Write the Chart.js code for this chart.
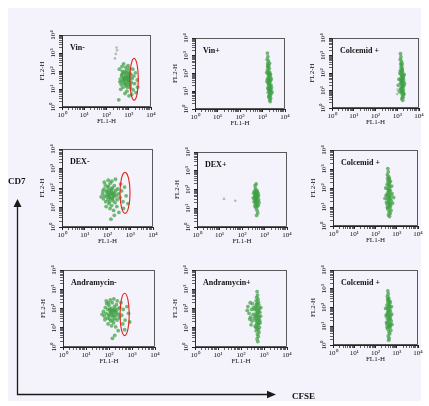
<!DOCTYPE html>
<html><head><meta charset="utf-8">
<script src="https://cdn.jsdelivr.net/npm/chart.js@4/dist/chart.umd.min.js"></script>
<style>
html,body{margin:0;padding:0;background:#fff;width:429px;height:406px;overflow:hidden;position:relative}
canvas{position:absolute}
.lbl{position:absolute;font:bold 9px "Liberation Serif",serif;color:#111;white-space:nowrap;line-height:10px}
</style></head><body>
<canvas id="ann" width="429" height="406" style="left:0;top:0"></canvas>
<span class="lbl" style="left:8px;top:176px">CD7</span>
<span class="lbl" style="left:292px;top:391px">CFSE</span>
<script>
// ---- data (values in decades: 10^value) ----
const tickLabels = ['10\u2070','10\u00b9','10\u00b2','10\u00b3','10\u2074'];
const panelNames = ['Vin-','Vin+','Colcemid +','DEX-','DEX+','Colcemid +','Andramycin-','Andramycin+','Colcemid +'];
const xAxisTitle = 'FL1-H';
const yAxisTitle = 'FL2-H';

const vinMinus = [[2.62,1.55],[2.68,1.72],[2.71,1.41],[2.75,1.88],[2.78,1.62],[2.80,1.30],[2.82,1.95],[2.84,1.50],[2.86,1.74],[2.88,1.18],[2.90,1.60],[2.91,2.05],[2.93,1.38],[2.95,1.83],[2.96,1.52],[2.98,1.70],[3.00,1.25],[3.02,1.95],[3.04,1.45],[3.06,1.65],[3.08,1.05],[3.10,1.80],[3.12,1.35],[3.15,1.58],[3.18,2.10],[3.20,0.95],[3.23,1.72],[3.26,1.30],[3.30,1.90],[3.33,0.80],[2.58,2.10],[2.64,0.98],[2.70,2.25],[2.74,1.10],[2.77,2.40],[2.83,0.75],[2.87,2.20],[2.92,0.88],[2.97,2.30],[3.01,0.62],[2.66,1.25],[2.72,1.98],[2.79,1.48],[2.85,1.28],[2.89,1.90],[2.94,1.10],[2.99,1.45],[3.03,2.15],[3.07,1.22],[3.13,0.70],[2.81,1.65],[2.76,1.55],[2.69,1.80],[2.95,1.65],[3.05,1.85],[2.60,1.40],[3.38,1.50],[3.40,1.10],[2.55,0.40]];
const vinPlus = [[3.22,3.15],[3.24,2.95],[3.21,2.80],[3.26,2.70],[3.23,2.55],[3.28,2.45],[3.25,2.35],[3.30,2.28],[3.22,2.20],[3.27,2.12],[3.32,2.05],[3.24,1.98],[3.29,1.92],[3.34,1.85],[3.26,1.80],[3.31,1.74],[3.22,1.68],[3.36,1.62],[3.28,1.58],[3.33,1.52],[3.25,1.46],[3.30,1.40],[3.38,1.35],[3.27,1.30],[3.32,1.24],[3.24,1.18],[3.35,1.12],[3.29,1.06],[3.33,1.00],[3.26,0.94],[3.38,0.88],[3.31,0.82],[3.35,0.75],[3.28,0.68],[3.36,0.60],[3.32,0.52],[3.34,0.42],[3.20,1.55],[3.19,2.05],[3.40,1.20],[3.39,1.70],[3.27,1.65],[3.30,1.95],[3.33,1.30],[3.29,1.45],[3.35,1.95],[3.23,2.42],[3.31,2.58],[3.37,1.05],[3.26,1.12],[3.42,0.95],[3.30,0.72]];
const colcemidA = [[3.15,3.10],[3.17,2.92],[3.14,2.78],[3.19,2.66],[3.16,2.52],[3.21,2.44],[3.18,2.33],[3.23,2.25],[3.15,2.16],[3.20,2.08],[3.25,2.00],[3.17,1.93],[3.22,1.86],[3.27,1.80],[3.19,1.74],[3.24,1.68],[3.14,1.62],[3.29,1.57],[3.21,1.51],[3.26,1.46],[3.18,1.40],[3.23,1.34],[3.30,1.28],[3.20,1.22],[3.25,1.16],[3.16,1.10],[3.28,1.04],[3.22,0.98],[3.26,0.92],[3.19,0.86],[3.30,0.78],[3.24,0.70],[3.27,0.62],[3.21,0.54],[3.25,0.44],[3.05,1.30],[3.08,1.65],[3.10,0.95],[3.33,1.40],[3.32,1.90],[3.20,1.60],[3.23,2.15],[3.26,1.25],[3.18,1.05],[3.28,1.70],[3.12,2.00],[3.22,2.55],[3.29,0.85],[3.17,1.45],[3.24,1.85]];
const dexMinus = [[1.78,1.70],[1.82,1.45],[1.85,1.95],[1.88,1.60],[1.90,2.15],[1.92,1.30],[1.95,1.80],[1.97,1.55],[2.00,2.05],[2.02,1.40],[2.04,1.72],[2.06,1.20],[2.08,1.90],[2.10,1.62],[2.12,2.25],[2.14,1.48],[2.16,1.82],[2.18,1.10],[2.20,1.68],[2.22,2.00],[2.24,1.35],[2.26,1.78],[2.28,1.55],[2.30,2.12],[2.33,1.25],[2.36,1.88],[2.39,1.60],[2.42,1.40],[2.45,1.95],[2.48,1.70],[1.86,2.30],[1.94,1.05],[2.03,2.40],[2.11,0.95],[2.19,2.35],[2.27,0.85],[2.35,2.45],[2.41,1.05],[2.07,1.52],[1.99,1.85],[2.13,1.75],[2.21,1.45],[2.17,1.95],[2.09,1.30],[2.25,1.62],[1.80,1.85],[2.01,1.65],[2.05,2.10],[2.32,1.72],[2.55,1.50],[2.62,1.85],[2.68,1.30],[2.75,2.05],[2.82,1.60],[2.90,1.20],[2.58,2.20],[2.70,0.95],[2.30,0.60],[2.15,0.40],[2.50,0.75],[1.72,1.55]];
const dexPlus = [[2.55,1.90],[2.58,1.75],[2.60,2.05],[2.62,1.60],[2.64,1.85],[2.66,1.45],[2.68,1.70],[2.56,1.50],[2.59,1.30],[2.61,1.95],[2.63,1.20],[2.65,1.55],[2.67,1.10],[2.69,1.38],[2.71,1.80],[2.57,1.65],[2.60,1.40],[2.62,1.02],[2.64,1.72],[2.66,1.25],[2.70,1.58],[2.72,1.15],[2.52,1.80],[2.54,1.35],[2.74,1.45],[2.58,2.20],[2.63,2.30],[2.67,0.90],[2.70,0.75],[2.65,0.62],[2.61,1.48],[2.68,1.92],[2.59,1.58],[2.73,1.68],[2.50,1.55],[2.76,1.30],[2.63,1.82],[2.57,1.12]];
const colcemidB = [[2.58,3.02],[2.60,2.85],[2.56,2.70],[2.62,2.60],[2.57,2.50],[2.64,2.42],[2.59,2.35],[2.66,2.28],[2.55,2.20],[2.61,2.12],[2.68,2.05],[2.58,1.98],[2.63,1.92],[2.70,1.86],[2.60,1.80],[2.65,1.74],[2.54,1.68],[2.72,1.62],[2.62,1.56],[2.67,1.50],[2.57,1.44],[2.63,1.38],[2.74,1.32],[2.60,1.26],[2.66,1.20],[2.55,1.14],[2.71,1.08],[2.62,1.02],[2.68,0.96],[2.58,0.90],[2.73,0.82],[2.64,0.75],[2.69,0.66],[2.61,0.58],[2.66,0.50],[2.50,1.60],[2.48,2.00],[2.52,1.25],[2.78,1.70],[2.80,1.20],[2.76,2.10],[2.65,2.50],[2.59,1.62],[2.69,1.42],[2.64,2.20],[2.56,0.98],[2.70,2.35],[2.62,1.85],[2.67,1.15],[2.45,1.45],[2.85,1.50]];
const andraMinus = [[1.76,1.85],[1.80,1.60],[1.84,2.05],[1.87,1.75],[1.90,2.25],[1.93,1.50],[1.95,1.95],[1.98,1.68],[2.00,2.15],[2.03,1.45],[2.05,1.85],[2.08,1.35],[2.10,2.00],[2.12,1.72],[2.14,2.30],[2.16,1.58],[2.18,1.92],[2.20,1.25],[2.22,1.80],[2.24,2.10],[2.26,1.48],[2.28,1.88],[2.30,1.65],[2.32,2.20],[2.35,1.40],[2.38,1.98],[2.41,1.70],[2.44,1.52],[2.47,2.05],[1.88,2.40],[1.96,1.20],[2.06,2.45],[2.11,1.10],[2.21,2.50],[2.29,1.05],[2.36,2.40],[2.02,1.62],[2.09,1.78],[2.17,1.40],[2.25,1.95],[2.13,1.88],[1.82,1.42],[1.99,2.30],[2.19,1.65],[2.04,1.95],[2.33,1.80],[2.55,1.65],[2.62,1.95],[2.70,1.40],[2.78,2.10],[2.85,1.75],[2.60,1.20],[2.52,2.30],[2.40,0.85],[2.25,0.60],[2.15,0.45],[2.68,0.90],[1.70,1.70],[2.90,1.30]];
const andraPlus = [[2.70,2.88],[2.72,2.70],[2.68,2.58],[2.74,2.48],[2.66,2.40],[2.76,2.32],[2.70,2.25],[2.78,2.18],[2.64,2.10],[2.72,2.04],[2.80,1.98],[2.68,1.92],[2.75,1.86],[2.82,1.80],[2.66,1.74],[2.73,1.68],[2.62,1.62],[2.79,1.56],[2.70,1.50],[2.76,1.44],[2.64,1.38],[2.71,1.32],[2.83,1.26],[2.68,1.20],[2.74,1.14],[2.62,1.08],[2.80,1.02],[2.70,0.96],[2.76,0.90],[2.66,0.84],[2.78,0.76],[2.72,0.66],[2.75,0.55],[2.70,0.42],[2.73,0.28],[2.85,1.60],[2.86,2.05],[2.60,1.95],[2.58,1.50],[2.67,2.20],[2.74,1.78],[2.69,1.60],[2.77,1.22],[2.65,1.02],[2.81,1.38],[2.30,2.10],[2.35,1.75],[2.40,2.30],[2.42,1.55],[2.46,1.95],[2.50,2.25],[2.48,1.35],[2.53,1.70],[2.38,1.45],[2.27,1.90],[2.55,2.05],[2.44,1.15]];
const colcemidC = [[2.58,2.88],[2.60,2.72],[2.56,2.60],[2.62,2.50],[2.57,2.42],[2.64,2.35],[2.59,2.28],[2.66,2.20],[2.54,2.13],[2.61,2.06],[2.68,2.00],[2.57,1.94],[2.63,1.88],[2.70,1.82],[2.59,1.76],[2.65,1.70],[2.53,1.64],[2.72,1.58],[2.61,1.52],[2.67,1.46],[2.56,1.40],[2.63,1.34],[2.74,1.28],[2.59,1.22],[2.66,1.16],[2.54,1.10],[2.71,1.04],[2.62,0.98],[2.68,0.92],[2.57,0.86],[2.72,0.78],[2.63,0.70],[2.67,0.60],[2.60,0.48],[2.64,0.36],[2.62,0.26],[2.50,1.55],[2.48,1.95],[2.52,1.20],[2.76,1.65],[2.77,1.10],[2.75,2.05],[2.60,2.45],[2.58,1.60],[2.69,1.40],[2.64,2.12],[2.55,0.95],[2.70,2.30],[2.61,1.80],[2.66,1.05]];
// faint scattered events (debris) drawn in grey
const vinMinusFaint = [[2.42,2.95],[2.48,3.15],[2.38,2.70],[2.45,3.30]];
const dexPlusFaint = [[1.20,1.50],[1.70,1.40]];
const colcemidAFaint = [[3.02,1.05],[3.00,0.80]];
const panelData = [vinMinus, vinPlus, colcemidA, dexMinus, dexPlus, colcemidB, andraMinus, andraPlus, colcemidC];
const panelFaint = [vinMinusFaint, [], colcemidAFaint, [], dexPlusFaint, [], [], [], []];
// red gates: [panel index, centre x, centre y, half-width, half-height] (decades)
const gates = [[0,3.24,1.54,0.19,1.16],[3,2.77,1.75,0.22,1.05],[6,2.68,1.69,0.20,1.10]];

// ---- layout (plot-area boxes: left, top, right, bottom) ----
const boxes = [[62,35,151,107],[195,38,285,109],[332,38,419,108],
               [62,149,153,227],[197,152,287,227],[333,150,418,226],
               [63,270,155,347],[195,270,287,347],[333,270,418,345]];

// annotation canvas: background + arrows
(function(){
  const c = document.getElementById('ann').getContext('2d');
  c.fillStyle = '#f4f2fa'; c.fillRect(8,8,413,393);
  c.strokeStyle = '#1a1a1a'; c.fillStyle = '#1a1a1a'; c.lineWidth = 1.3;
  c.beginPath(); c.moveTo(17.5,206); c.lineTo(17.5,394.5); c.lineTo(268,394.5); c.stroke();
  c.beginPath(); c.moveTo(17.5,199); c.lineTo(13.5,207); c.lineTo(21.5,207); c.closePath(); c.fill();
  c.beginPath(); c.moveTo(276,394.5); c.lineTo(267,390.8); c.lineTo(267,398.2); c.closePath(); c.fill();
})();

const framePlugin = {
  id: 'frame',
  afterDatasetsDraw(chart, args, opts) {
    const {ctx, chartArea: a, scales: {x, y}} = chart;
    ctx.save();
    ctx.strokeStyle = '#333'; ctx.lineWidth = 0.8;
    ctx.strokeRect(a.left + 0.5, a.top + 0.5, a.right - a.left - 1, a.bottom - a.top - 1);
    ctx.font = 'bold 8px "Liberation Serif", serif'; ctx.fillStyle = '#111'; ctx.textBaseline = 'middle';
    ctx.fillText(opts.label, a.left + 8, a.top + 13);
    (opts.gates || []).forEach(g => {
      const cx = x.getPixelForValue(g[1]), cy = y.getPixelForValue(g[2]);
      const rx = Math.abs(x.getPixelForValue(g[1] + g[3]) - cx);
      const ry = Math.abs(y.getPixelForValue(g[2] + g[4]) - cy);
      ctx.beginPath(); ctx.ellipse(cx, cy, rx, ry, 0, 0, Math.PI * 2);
      ctx.strokeStyle = '#e2231a'; ctx.lineWidth = 1.1; ctx.stroke();
    });
    ctx.restore();
  }
};

function decadeTicks(scale) {
  const t = [];
  for (let d = 0; d <= 4; d++) {
    t.push({value: d});
    if (d < 4) for (let k = 2; k <= 9; k++) t.push({value: d + Math.log10(k)});
  }
  scale.ticks = t;
}
const tickCb = v => Number.isInteger(v) ? tickLabels[v] : '';
const tickFont = {family: '"Liberation Serif", serif', size: 7};

boxes.forEach((b, i) => {
  const cv = document.createElement('canvas');
  const W = b[2] - b[0] + 32, H = b[3] - b[1] + 8 + 18;
  cv.width = W; cv.height = H;
  cv.style.left = (b[0] - 24) + 'px'; cv.style.top = (b[1] - 8) + 'px';
  cv.style.width = W + 'px'; cv.style.height = H + 'px';
  document.body.appendChild(cv);
  const common = {
    type: 'linear', min: 0, max: 4,
    afterBuildTicks: decadeTicks,
    border: {display: true, color: '#222', width: 1},
    grid: {drawOnChartArea: false, drawTicks: true, tickLength: 3, color: '#222',
           tickWidth: c => Number.isInteger(c.tick && c.tick.value) ? 1 : 0.7}
  };
  new Chart(cv, {
    type: 'scatter',
    data: {datasets: [{
      data: panelFaint[i].map(p => ({x: p[0], y: p[1]})),
      pointRadius: 1.3, pointHoverRadius: 1.3, borderWidth: 0,
      backgroundColor: 'rgba(150,165,155,0.7)'
    }, {
      data: panelData[i].map(p => ({x: p[0], y: p[1]})),
      pointRadius: 1.9, pointHoverRadius: 1.9, borderWidth: 0,
      backgroundColor: 'rgba(62,160,68,0.72)'
    }]},
    options: {
      responsive: false, animation: false, devicePixelRatio: 1,
      layout: {padding: {left: 0, top: 8, right: 8, bottom: 0}},
      plugins: {legend: {display: false}, tooltip: {enabled: false},
        frame: {label: panelNames[i], gates: gates.filter(g => g[0] === i)}},
      scales: {
        x: Object.assign({}, common, {
          afterFit: s => { s.height = 18; },
          ticks: {callback: tickCb, autoSkip: false, maxRotation: 0, minRotation: 0, padding: 1, font: tickFont, color: '#111'},
          title: {display: true, text: xAxisTitle, font: tickFont, color: '#111', padding: 0}
        }),
        y: Object.assign({}, common, {
          afterFit: s => { s.width = 24; },
          ticks: {callback: tickCb, autoSkip: false, minRotation: 90, maxRotation: 90, crossAlign: 'center', padding: 1, font: tickFont, color: '#111'},
          title: {display: true, text: yAxisTitle, font: tickFont, color: '#111', padding: 0}
        })
      }
    },
    plugins: [framePlugin]
  });
});
</script>
</body></html>
